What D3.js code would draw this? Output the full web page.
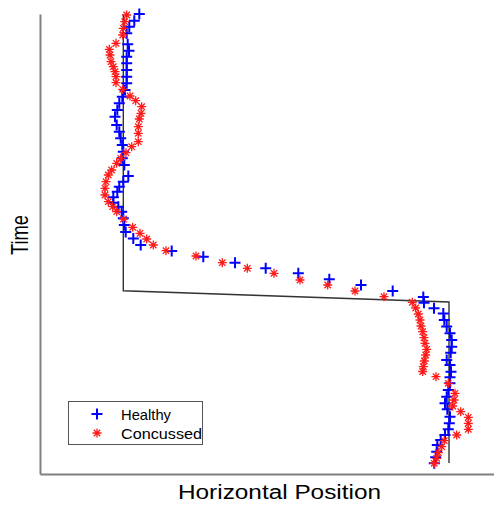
<!DOCTYPE html>
<html><head><meta charset="utf-8">
<script src="https://cdn.jsdelivr.net/npm/d3@7"></script>
<style>html,body{margin:0;padding:0;background:#fff;}svg{display:block;}</style>
</head><body>
<script>
const healthyX=[99.3,94.3,89.3,86.7,87.7,89,86.7,86.7,86.7,86.7,86.7,85,82.3,79.3,77.3,75,76.7,79.3,80.7,82.3,83.3,82.3,84.3,88.3,83.3,79.3,77.3,73.3,73.3,78.3,81.7,83.3,84.3,85.7,93.3,100.7,131.7,163.3,195,225.7,258.3,289.3,321,352.7,383.3,384,394,403.3,404.3,406.7,410,411.7,411.7,410.7,406.7,410,411,410,410,408.3,406.7,405,407.3,410,409.3,408.3,405,400.7,397.3,396.7,395.7,394.3];
const healthyT=[460,453.3,447.3,440.7,429.7,423.3,417.3,410.7,404,397.3,390.7,384,377.3,370.7,364,357.3,349,342.3,335.7,329,322.3,315.7,309,298,292.3,287.3,282.3,276.7,271.3,267.3,262.3,255.7,249,242,235.5,229,223,217.3,211.3,205.7,200.7,194.7,189,183,177,171.3,165.7,160.5,154,147.5,140.7,134,127.3,121.3,114,109,102.3,96.7,90.7,84,77.3,70.7,64.7,57.3,50.7,44.7,39,34,29,22.3,16.7,10.7];
const concussedX=[86.7,84.7,83.3,82.7,76,69.3,70,71,73.3,75,76,76,82.7,90,95.7,101.7,101,99.3,98.3,98.3,98.3,91.7,86,80.7,76.7,71.7,68.3,66,65,65,68.3,72.7,76.7,83.5,92.7,100,106.7,113.3,126,156,182.3,207.3,234,260,287.7,315,344,372.3,375.7,378.3,380,381,382.7,384,385,386.7,385.7,384.3,383.3,382.7,396,408.3,415,414,412.7,420.7,428.3,428.3,428.3,416.7,404.3,401.7,398.3,396.7,394.3];
const concussedT=[459,452.3,445.7,439,430.7,424.7,419,412.3,407.3,402.3,397.3,391.3,384.7,378,373.3,367.3,360.7,355,347.3,340.7,332.3,327.3,321.3,315.7,310.7,304,299,292.3,285.7,279,272.3,267.3,262.3,255,246.7,240.7,235,229,223.3,218,211.3,205.7,200.7,194,189,183,177.3,171.7,166,160,154,148,142.3,136.3,130.7,124.7,119,113,107.3,102.5,97.3,90.7,80.7,74,68,62.3,56.7,50.7,44.7,39,33.3,27.3,21.3,15.7,10.7];
const pathX=[83.3,83.3,409,409];
const pathT=[460,183.3,172,11];
const seriesNames=["Healthy","Concussed"];
const xLabel="Horizontal Position", yLabel="Time";

const W=494,H=507;
const svg=d3.select("body").append("svg").attr("width",W).attr("height",H);
const x=d3.scaleLinear().domain([0,454]).range([40,494]);
const y=d3.scaleLinear().domain([0,460]).range([474,14]);
const font="Arial, 'Liberation Sans', Helvetica, sans-serif";

// axes
const ax=svg.append("g").attr("transform","translate(40,0)").call(d3.axisLeft(y).ticks(0).tickSize(0).tickSizeOuter(0));
ax.select(".domain").attr("stroke","#808080").attr("stroke-width",2);
const bx=svg.append("g").attr("transform","translate(0,474)").call(d3.axisBottom(x).ticks(0).tickSize(0).tickSizeOuter(0));
bx.select(".domain").attr("stroke","#808080").attr("stroke-width",2);

// reference path
const pathData=pathX.map((v,i)=>[v,pathT[i]]);
svg.append("path").datum(pathData)
  .attr("d",d3.line().x(d=>x(d[0])).y(d=>y(d[1])))
  .attr("fill","none").attr("stroke","#333").attr("stroke-width",1.4);

const plusPath="M-5.5,0H5.5M0,-5.5V5.5";
const starPath="M-4.5,0H4.5M0,-4.5V4.5M-3.2,-3.2L3.2,3.2M-3.2,3.2L3.2,-3.2";

const hData=healthyX.map((v,i)=>[v,healthyT[i]]);
const cData=concussedX.map((v,i)=>[v,concussedT[i]]);
svg.append("g").selectAll("path").data(hData).join("path")
  .attr("transform",d=>`translate(${x(d[0])},${y(d[1])})`)
  .attr("d",plusPath).attr("stroke","#0000ff").attr("stroke-width",2).attr("fill","none");
svg.append("g").selectAll("path").data(cData).join("path")
  .attr("transform",d=>`translate(${x(d[0])},${y(d[1])})`)
  .attr("d",starPath).attr("stroke","#ff1a1a").attr("stroke-width",1.3).attr("fill","none");

// legend
const lg=svg.append("g");
lg.append("rect").attr("x",68.5).attr("y",401.5).attr("width",134).attr("height",43)
  .attr("fill","#fff").attr("stroke","#555").attr("stroke-width",1);
lg.append("path").attr("transform","translate(97,414)").attr("d",plusPath)
  .attr("stroke","#0000ff").attr("stroke-width",2).attr("fill","none");
lg.append("path").attr("transform","translate(97,433)").attr("d",starPath)
  .attr("stroke","#ff1a1a").attr("stroke-width",1.3).attr("fill","none");
lg.append("text").attr("x",121).attr("y",419.5).text(seriesNames[0])
  .attr("font-family",font).attr("font-size",14.5).attr("textLength",50).attr("lengthAdjust","spacingAndGlyphs");
lg.append("text").attr("x",121).attr("y",439).text(seriesNames[1])
  .attr("font-family",font).attr("font-size",14.5).attr("textLength",81).attr("lengthAdjust","spacingAndGlyphs");

// axis titles
svg.append("text").attr("x",178).attr("y",499).text(xLabel)
  .attr("font-family",font).attr("font-size",20).attr("textLength",203).attr("lengthAdjust","spacingAndGlyphs");
svg.append("text").attr("transform","translate(28,255) rotate(-90)").text(yLabel)
  .attr("font-family",font).attr("font-size",24).attr("textLength",40).attr("lengthAdjust","spacingAndGlyphs");
</script>
</body></html>
